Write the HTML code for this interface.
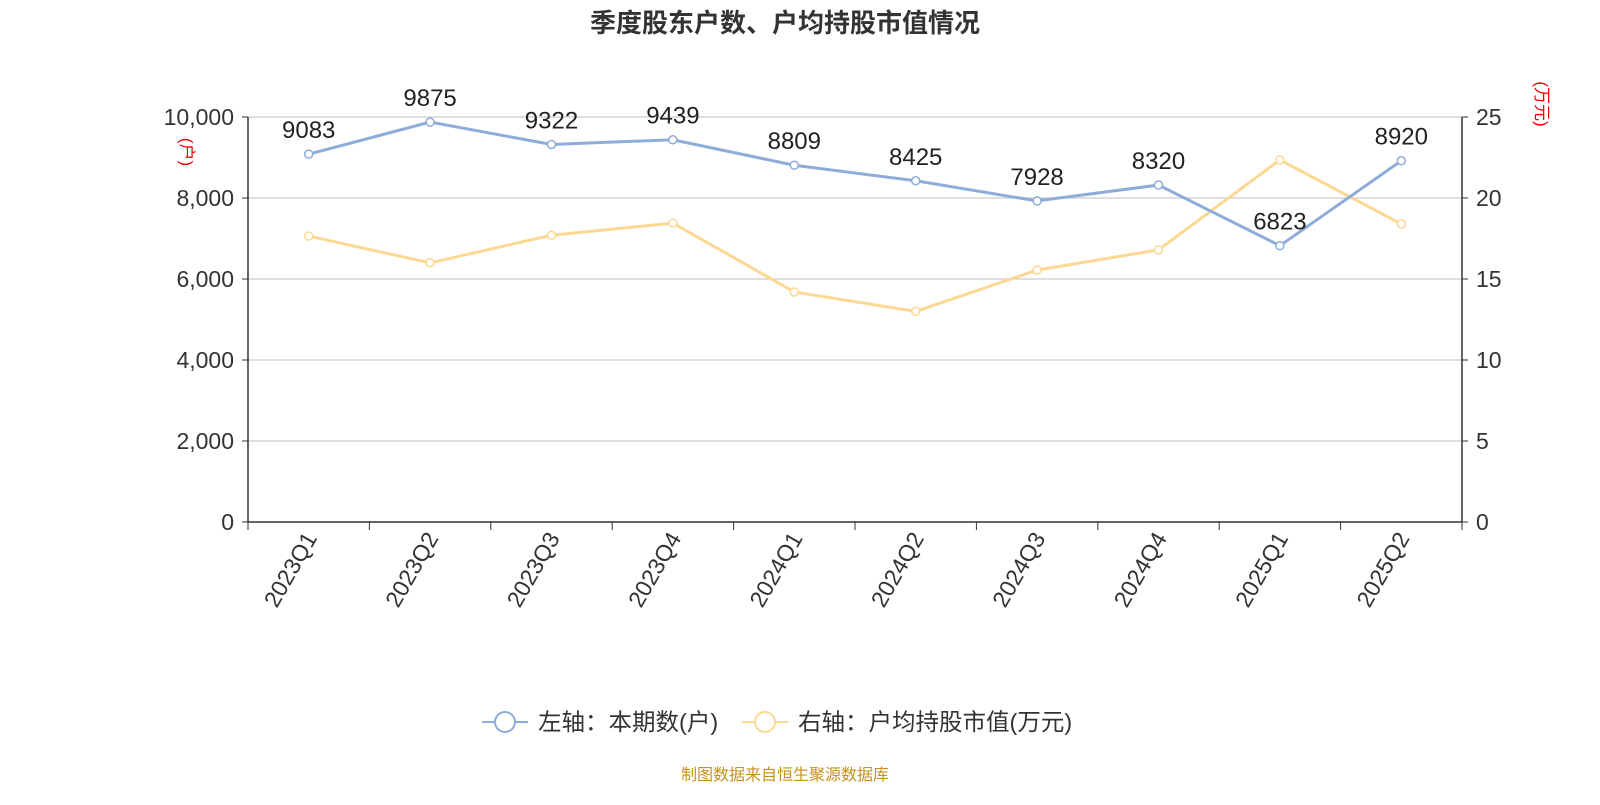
<!DOCTYPE html>
<html><head><meta charset="utf-8"><style>
body{margin:0;background:#fff;}
svg text{font-family:"Liberation Sans","Noto Sans CJK SC",sans-serif;}
</style></head><body>
<svg id="c" width="1600" height="800" xmlns="http://www.w3.org/2000/svg">
<text x="785" y="32" text-anchor="middle" font-size="26" font-weight="bold" fill="#333">季度股东户数、户均持股市值情况</text>
<g id="grid"></g><g id="axes"></g><g id="series"></g>
<text transform="translate(181,152) rotate(90)" font-size="17" fill="#e00" text-anchor="middle">(户)</text>
<text transform="translate(1536,104) rotate(90)" font-size="17" fill="#e00" text-anchor="middle">(万元)</text>
<g>
<line x1="482" y1="722" x2="528" y2="722" stroke="#8eacd9" stroke-width="2"/>
<circle cx="505" cy="722" r="10" fill="#fff" stroke="#8eacd9" stroke-width="2"/>
<text x="538" y="730" font-size="23.5" fill="#333">左轴：本期数(户)</text></g>
<g>
<line x1="742" y1="722" x2="788" y2="722" stroke="#fdd893" stroke-width="2"/>
<circle cx="765" cy="722" r="10" fill="#fff" stroke="#fdd893" stroke-width="2"/>
<text x="798" y="730" font-size="23.5" fill="#333">右轴：户均持股市值(万元)</text></g>
<text x="785" y="780" text-anchor="middle" font-size="16" fill="#c8901a">制图数据来自恒生聚源数据库</text>
</svg>
<script>
const categories=["2023Q1","2023Q2","2023Q3","2023Q4","2024Q1","2024Q2","2024Q3","2024Q4","2025Q1","2025Q2"];
const holders=[9083,9875,9322,9439,8809,8425,7928,8320,6823,8920];
const avgValue=[17.65,16.0,17.7,18.45,14.2,13.0,15.55,16.8,22.35,18.4];
const leftTicks=[0,2000,4000,6000,8000,10000];
const rightTicks=[0,5,10,15,20,25];
const NS="http://www.w3.org/2000/svg";
const X0=248,X1=1462,Y0=522,Y1=117;
const bw=(X1-X0)/categories.length;
const xPos=i=>X0+bw*(i+0.5);
const yL=v=>Y0-(v/10000)*(Y0-Y1);
const yR=v=>Y0-(v/25)*(Y0-Y1);
function mk(tag,attrs,parent,text){const e=document.createElementNS(NS,tag);for(const k in attrs)e.setAttribute(k,attrs[k]);if(text!==undefined)e.textContent=text;parent.appendChild(e);return e;}
const grid=document.getElementById('grid'),axes=document.getElementById('axes'),ser=document.getElementById('series');
leftTicks.forEach((t,i)=>{
 const y=yL(t);
 if(t>0){const g=mk('line',{x1:X0,x2:X1,y1:y,y2:y,stroke:'#ccc','stroke-width':1.2},grid);
 
 }
 const lt=mk('text',{x:X0-14,y:y+8,'text-anchor':'end','font-size':23,fill:'#333'},axes,t.toLocaleString('en-US'));
 
 
 mk('line',{x1:X0-6,x2:X0,y1:y,y2:y,stroke:'#333'},axes);
});
rightTicks.forEach(t=>{
 const y=yR(t);
 const rt=mk('text',{x:X1+14,y:y+8,'font-size':23,fill:'#333'},axes,String(t));
 
 
 mk('line',{x1:X1,x2:X1+6,y1:y,y2:y,stroke:'#333'},axes);
});
mk('line',{x1:X0,x2:X0,y1:Y1,y2:Y0,stroke:'#333','stroke-width':1.5},axes);
mk('line',{x1:X1,x2:X1,y1:Y1,y2:Y0,stroke:'#333','stroke-width':1.5},axes);
mk('line',{x1:X0,x2:X1,y1:Y0,y2:Y0,stroke:'#333','stroke-width':1.5},axes);
for(let i=0;i<=categories.length;i++){const x=X0+bw*i;mk('line',{x1:x,x2:x,y1:Y0,y2:Y0+8,stroke:'#333'},axes);}
categories.forEach((c,i)=>{
 const x=xPos(i);
 const t=mk('text',{transform:`translate(${x+9},${Y0+16}) rotate(-60)`,'text-anchor':'end','font-size':23,fill:'#333'},axes,c);
 
 
});
function line(vals,yf,color,name,labels){
 const p=mk('polyline',{points:vals.map((v,i)=>xPos(i)+','+yf(v)).join(' '),fill:'none',stroke:color,'stroke-width':3},ser);
 
 
 vals.forEach((v,i)=>{
  const c=mk('circle',{cx:xPos(i),cy:yf(v),r:4,fill:'#fff',stroke:color,'stroke-width':1.5},ser);
  
  
  if(labels){const t=mk('text',{x:xPos(i),y:yf(v)-16,'text-anchor':'middle','font-size':24,fill:'#222'},ser,String(v));
  
  }
 });
}
line(avgValue,yR,'#fdd893','avg-value',false);
line(holders,yL,'#8eacd9','holders',true);
</script>
</body></html>
